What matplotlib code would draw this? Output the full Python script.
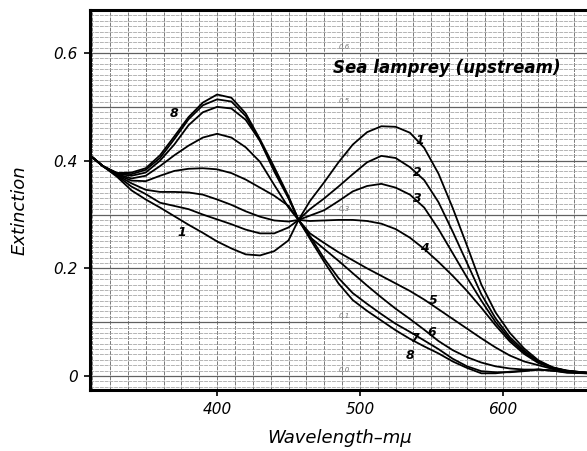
import matplotlib
matplotlib.use("Agg")
import matplotlib.pyplot as plt
import matplotlib.ticker as mticker
import numpy as np

matplotlib.rcParams.update({'font.size': 11, 'font.style': 'italic'})

# wavelength grid (m-mu) and extinction for curves 1..8
wl = [311, 320, 330, 340, 350, 360, 370, 380, 390, 400, 410, 420, 430, 440,
      450, 457, 465, 475, 485, 495, 505, 515, 525, 535, 545, 555, 565, 575,
      585, 595, 605, 615, 625, 635, 645, 659]

c1 = [0.410, 0.390, 0.370, 0.345, 0.328, 0.313, 0.297, 0.281, 0.266, 0.250,
      0.237, 0.226, 0.224, 0.232, 0.252, 0.290, 0.325, 0.360, 0.397, 0.430,
      0.453, 0.464, 0.463, 0.452, 0.424, 0.376, 0.312, 0.242, 0.170, 0.118,
      0.080, 0.051, 0.029, 0.016, 0.009, 0.006]
c2 = [0.410, 0.390, 0.372, 0.352, 0.338, 0.322, 0.316, 0.310, 0.300, 0.291,
      0.282, 0.272, 0.265, 0.265, 0.276, 0.290, 0.310, 0.330, 0.352, 0.375,
      0.397, 0.409, 0.405, 0.388, 0.364, 0.323, 0.268, 0.210, 0.152, 0.107,
      0.072, 0.047, 0.027, 0.016, 0.010, 0.006]
c3 = [0.410, 0.390, 0.373, 0.358, 0.346, 0.342, 0.342, 0.341, 0.337, 0.328,
      0.318, 0.306, 0.296, 0.289, 0.287, 0.290, 0.298, 0.308, 0.325, 0.343,
      0.353, 0.357, 0.350, 0.337, 0.313, 0.273, 0.228, 0.183, 0.140, 0.100,
      0.068, 0.044, 0.025, 0.015, 0.010, 0.006]
c4 = [0.410, 0.390, 0.374, 0.363, 0.362, 0.372, 0.381, 0.385, 0.386, 0.384,
      0.377, 0.365, 0.350, 0.335, 0.316, 0.290, 0.288, 0.289, 0.290, 0.290,
      0.288, 0.283, 0.273, 0.257, 0.236, 0.212, 0.186, 0.158, 0.127, 0.094,
      0.064, 0.041, 0.024, 0.015, 0.009, 0.006]
c5 = [0.410, 0.390, 0.375, 0.367, 0.372, 0.390, 0.410, 0.428, 0.443, 0.450,
      0.443, 0.425, 0.398, 0.355, 0.313, 0.290, 0.265, 0.247, 0.230, 0.215,
      0.200, 0.186, 0.172, 0.158, 0.142, 0.124, 0.106, 0.088, 0.070, 0.053,
      0.038, 0.027, 0.020, 0.013, 0.009, 0.006]
c6 = [0.410, 0.390, 0.376, 0.372, 0.378, 0.400, 0.430, 0.466, 0.490, 0.500,
      0.497, 0.476, 0.437, 0.380, 0.330, 0.290, 0.258, 0.236, 0.214, 0.191,
      0.168, 0.146, 0.125, 0.106, 0.086, 0.065, 0.048, 0.035, 0.025, 0.018,
      0.014, 0.012, 0.012, 0.010, 0.008, 0.006]
c7 = [0.410, 0.390, 0.377, 0.375, 0.383, 0.405, 0.440, 0.477, 0.503, 0.514,
      0.510, 0.483, 0.437, 0.385, 0.332, 0.290, 0.260, 0.218, 0.182, 0.154,
      0.134, 0.115, 0.097, 0.082, 0.066, 0.050, 0.032, 0.018, 0.009, 0.007,
      0.007, 0.009, 0.012, 0.010, 0.007, 0.005]
c8 = [0.410, 0.390, 0.377, 0.378, 0.386, 0.410, 0.445, 0.481, 0.508, 0.523,
      0.517, 0.488, 0.440, 0.388, 0.334, 0.290, 0.255, 0.212, 0.172, 0.141,
      0.121, 0.103, 0.085, 0.069, 0.055, 0.042, 0.027, 0.015, 0.005, 0.005,
      0.008, 0.010, 0.012, 0.010, 0.006, 0.005]
curves = [c1, c2, c3, c4, c5, c6, c7, c8]

# curve number labels: (text, wavelength, extinction)
curve_labels = [('1', 542, 0.437), ('2', 540.5, 0.378), ('3', 540, 0.330),
                ('4', 545, 0.237), ('5', 551, 0.141), ('6', 550, 0.080),
                ('7', 538, 0.070), ('8', 535, 0.039),
                ('8', 370, 0.487), ('1', 375.5, 0.267)]

# scale printed on the graph paper itself
paper_vals = ['0.0', '0.1', '0.2', '0.3', '0.4', '0.5', '0.6']

fig = plt.figure(figsize=(5.87, 4.51), dpi=100, facecolor='white')
ax = fig.add_axes([90/587, 61/451, 1 - 90/587, 380/451])

ax.set_xlim(311, 659)
ax.set_ylim(-0.026, 0.68)

# graph paper
ax.xaxis.set_major_locator(mticker.FixedLocator([400, 500, 600]))
ax.xaxis.set_minor_locator(mticker.MultipleLocator(12.5))
ax.yaxis.set_major_locator(mticker.FixedLocator([0, 0.2, 0.4, 0.6]))
ax.yaxis.set_minor_locator(mticker.MultipleLocator(0.01))
ax.grid(which='both', axis='x', color='#7a7a7a', lw=0.7,
        linestyle=(0, (4, 1.2)))
ax.grid(which='minor', axis='y', color='#a0a0a0', lw=0.55,
        linestyle=(0, (5, 1.2)))
for k in range(7):
    ax.axhline(k * 0.1, color='#606060', lw=0.9, zorder=1)
ax.set_axisbelow(True)

for i, v in enumerate(paper_vals):
    ax.text(489, i * 0.1 + 0.011, v, fontsize=5, color='#777777',
            ha='center', va='center')

for c in curves:
    ax.plot(wl, c, color='black', lw=1.3, solid_joinstyle='round', zorder=3)

for t, x, y in curve_labels:
    ax.text(x, y, t, fontsize=9, fontweight='bold', ha='center',
            va='center', zorder=4)

ax.text(481, 0.572, 'Sea lamprey (upstream)', fontsize=12,
        fontweight='bold', ha='left', va='center', zorder=4)

for s in ['left', 'top', 'bottom']:
    ax.spines[s].set_linewidth(2.2)
ax.spines['right'].set_visible(False)

ax.set_yticklabels(['0', '0.2', '0.4', '0.6'])
ax.tick_params(which='major', length=4, width=1.2, labelsize=11, pad=5)
ax.tick_params(which='minor', length=0)

fig.text(20/587, 1 - 210/451, 'Extinction', rotation=90, fontsize=13,
         ha='center', va='center')
fig.text(340/587, 1 - 438/451, 'Wavelength\u2013m\u03bc', fontsize=13,
         ha='center', va='center')

fig.savefig('out.png', dpi=100, facecolor='white')
